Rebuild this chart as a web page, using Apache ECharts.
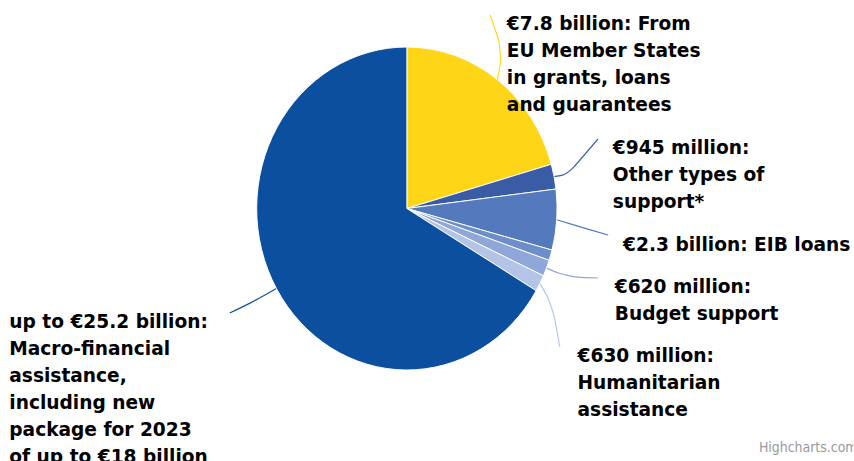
<!DOCTYPE html>
<html>
<head>
<meta charset="utf-8">
<script src="https://cdn.jsdelivr.net/npm/echarts@6/dist/echarts.min.js"></script>
<style>
  html, body { margin: 0; padding: 0; background: #ffffff; overflow: hidden; }
  #wrap { width: 854px; height: 461px; overflow: hidden; position: relative; }
  #chart { width: 918px; height: 461px; transform: scaleX(0.93); transform-origin: 0 0; }
</style>
</head>
<body>
<div id="wrap"><div id="chart"></div></div>
<script>
// ---- data ----
const sliceNames = [
  'From EU Member States in grants, loans and guarantees',
  'Other types of support*',
  'EIB loans',
  'Other',
  'Budget support',
  'Humanitarian assistance',
  'Macro-financial assistance'
];
const sliceValues = [7.8, 0.945, 2.3, 0.4, 0.62, 0.63, 25.2]; // € billion
const sliceLabels = [
  '€7.8 billion: From\nEU Member States\nin grants, loans\nand guarantees',
  '€945 million:\nOther types of\nsupport*',
  '€2.3 billion: EIB loans',
  '',
  '€620 million:\nBudget support',
  '€630 million:\nHumanitarian\nassistance',
  'up to €25.2 billion:\nMacro-financial\nassistance,\nincluding new\npackage for 2023\nof up to €18 billion'
];
const sliceColors = ['#FFD617', '#3A5CA7', '#5479BC', '#6E8ECB', '#8EA7D8', '#B4C4E6', '#0B4F9E'];

// ---- label placement (chart pixel space, before horizontal squeeze) ----
const labelPlacement = [
  { x: 545, y: 10,    knee: [541, 52],  end: [527, 15] },
  { x: 659, y: 134,   knee: [610, 175], end: [643, 139] },
  { x: 670, y: 230.5, knee: [624, 227], end: [654, 235] },
  null,
  { x: 661, y: 272.5, knee: [610, 277], end: [643, 278] },
  { x: 621, y: 341.5, knee: [594, 305], end: [602, 347] },
  { x: 10,  y: 308,   knee: [270, 303], end: [247, 313] }
];

const chart = echarts.init(document.getElementById('chart'), null, { renderer: 'svg' });

const data = sliceNames.map((n, i) => ({
  name: n,
  value: sliceValues[i],
  itemStyle: { color: sliceColors[i] },
  label: { show: sliceLabels[i] !== '', formatter: sliceLabels[i] },
  labelLine: { show: sliceLabels[i] !== '', lineStyle: { color: sliceColors[i] } }
}));

chart.setOption({
  animation: false,
  backgroundColor: '#ffffff',
  series: [{
    type: 'pie',
    center: [437.5, 208.5],
    radius: 161.5,
    startAngle: 90,
    clockwise: true,
    avoidLabelOverlap: false,
    itemStyle: { borderColor: '#ffffff', borderWidth: 1 },
    label: {
      position: 'outside',
      color: '#000000',
      fontFamily: 'DejaVu Sans',
      fontWeight: 'bold',
      fontSize: 20,
      lineHeight: 27,
      align: 'left'
    },
    labelLine: { length: 15, length2: 20, smooth: 0.4, lineStyle: { width: 1.2 } },
    emphasis: { disabled: true },
    labelLayout: function (params) {
      const p = labelPlacement[params.dataIndex];
      if (!p) return {};
      const start = params.labelLinePoints ? params.labelLinePoints[0] : p.knee;
      return {
        x: p.x,
        y: p.y,
        align: 'left',
        verticalAlign: 'top',
        labelLinePoints: [start, p.knee, p.end]
      };
    },
    data: data
  }],
  graphic: [{
    type: 'text',
    left: 816,
    top: 440,
    style: { text: 'Highcharts.com', fill: '#999999', fontSize: 13.5, fontFamily: 'DejaVu Sans' }
  }]
});
</script>
</body>
</html>
